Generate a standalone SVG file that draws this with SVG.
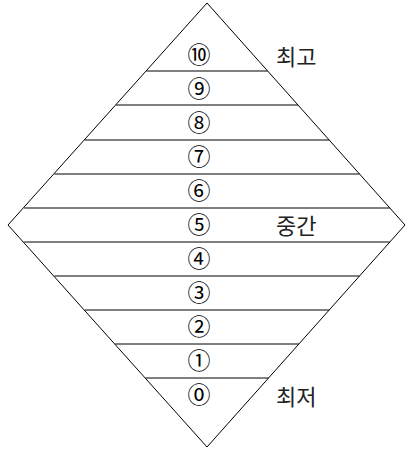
<svg xmlns="http://www.w3.org/2000/svg" width="410" height="450" viewBox="0 0 410 450">
<style>
.edge{fill:none;stroke:#000;stroke-width:1}
.band{stroke:#000;stroke-width:1}
.num{font-family:"Noto Sans CJK KR",sans-serif;font-size:23px;text-anchor:middle;dominant-baseline:central;fill:#000}
.ko{font-family:"Noto Sans CJK KR",sans-serif;font-size:22px;dominant-baseline:central;fill:#222}
</style>
<rect width="410" height="450" fill="#fff"/>
<g id="diamond"><polygon class="edge" points="207,3 405,225 207,447 8,225"/></g>
<g id="connectors">
<line class="band" x1="146.4" y1="71" x2="267.6" y2="71"/>
<line class="band" x1="116" y1="105" x2="298" y2="105"/>
<line class="band" x1="84.8" y1="140" x2="329.2" y2="140"/>
<line class="band" x1="54.5" y1="174" x2="359.5" y2="174"/>
<line class="band" x1="24.2" y1="208" x2="389.8" y2="208"/>
<line class="band" x1="24.2" y1="242" x2="389.8" y2="242"/>
<line class="band" x1="54.5" y1="276" x2="359.5" y2="276"/>
<line class="band" x1="84.8" y1="310" x2="329.2" y2="310"/>
<line class="band" x1="115.1" y1="344" x2="298.9" y2="344"/>
<line class="band" x1="145.5" y1="378" x2="268.5" y2="378"/>
</g>
<g id="level-10"><text class="num" x="199" y="53">⑩</text><text class="ko" x="276" y="55">최고</text></g>
<g id="level-9"><text class="num" x="199" y="87">⑨</text></g>
<g id="level-8"><text class="num" x="199" y="121">⑧</text></g>
<g id="level-7"><text class="num" x="199" y="155">⑦</text></g>
<g id="level-6"><text class="num" x="199" y="189">⑥</text></g>
<g id="level-5"><text class="num" x="199" y="223">⑤</text><text class="ko" x="276" y="224">중간</text></g>
<g id="level-4"><text class="num" x="199" y="257">④</text></g>
<g id="level-3"><text class="num" x="199" y="291">③</text></g>
<g id="level-2"><text class="num" x="199" y="325">②</text></g>
<g id="level-1"><text class="num" x="199" y="359">①</text></g>
<g id="level-0"><text class="num" x="199" y="393">⓪</text><text class="ko" x="276" y="395">최저</text></g>
</svg>
